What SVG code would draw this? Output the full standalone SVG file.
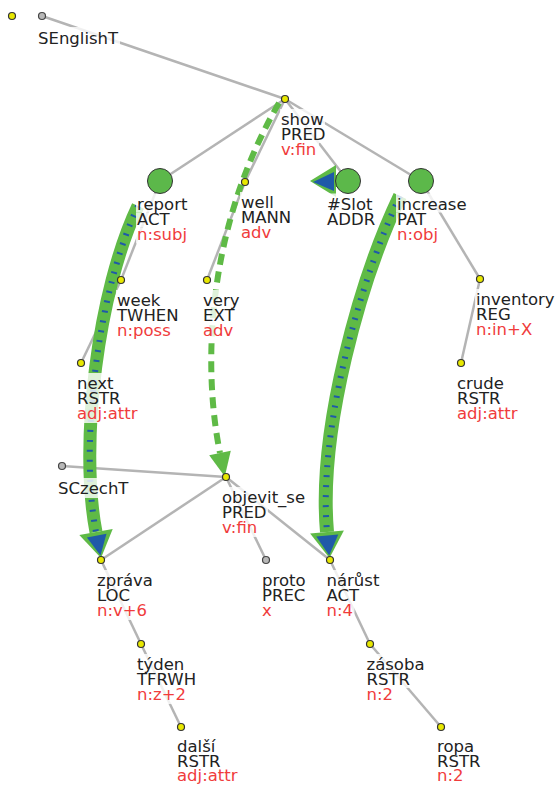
<svg xmlns="http://www.w3.org/2000/svg" width="558" height="785" viewBox="0 0 558 785">
<style>
.e{stroke:#b4b4b4;stroke-width:2.5;fill:none}
.dot{fill:#e8e800;stroke:#333;stroke-width:1.2}
.gr{fill:#b8b8b8;stroke:#444;stroke-width:1.2}
.big{fill:#5cb84a;stroke:#333;stroke-width:1}
.bg rect{fill:#fff;fill-opacity:0.8}
text{font-family:"DejaVu Sans",sans-serif;font-size:16.5px;fill:#222}
.f{fill:#f03c3c}
.g{stroke:#5fba46;fill:none}
.gd{stroke:#5fba46;fill:none;stroke-width:6;stroke-dasharray:11 7}
.b{stroke:#1f5aa8;stroke-width:6;stroke-dasharray:2 8;fill:none}
.ga{fill:#5fba46}
.ba{fill:#1f5aa8}
</style>
<rect width="558" height="785" fill="#fff"/>
<g id="connectors">
<line class="e" x1="42" y1="16" x2="285" y2="99"/>
<line class="e" x1="285" y1="99" x2="160" y2="181"/>
<line class="e" x1="285" y1="99" x2="245" y2="182"/>
<line class="e" x1="285" y1="99" x2="348" y2="181"/>
<line class="e" x1="285" y1="99" x2="421" y2="181"/>
<line class="e" x1="160" y1="181" x2="121" y2="280"/>
<line class="e" x1="121" y1="280" x2="81" y2="363"/>
<line class="e" x1="245" y1="182" x2="207" y2="280"/>
<line class="e" x1="421" y1="181" x2="480" y2="279"/>
<line class="e" x1="480" y1="279" x2="461" y2="363"/>
<line class="e" x1="62" y1="466" x2="226" y2="477"/>
<line class="e" x1="226" y1="477" x2="101" y2="560"/>
<line class="e" x1="226" y1="477" x2="266" y2="560"/>
<line class="e" x1="226" y1="477" x2="330" y2="560"/>
<line class="e" x1="101" y1="560" x2="141" y2="644"/>
<line class="e" x1="141" y1="644" x2="181" y2="727"/>
<line class="e" x1="330" y1="560" x2="370" y2="644"/>
<line class="e" x1="370" y1="644" x2="441" y2="727"/>
</g>
<g id="arrows">
<path class="g" stroke-width="13" d="M138,206 C98,290 79,444 96,532"/>
<path class="b" d="M138,206 C98,290 79,444 96,532"/>
<polygon class="ga" points="112.7,529 79.3,535 101,558"/>
<polygon class="ba" points="106.5,533.8 86.9,537.6 100.5,555.5"/>
<path class="g" stroke-width="14" d="M400,196 C360,280 318,430 327,532"/>
<path class="b" d="M400,196 C360,280 318,430 327,532"/>
<polygon class="ga" points="343.9,530.5 310.1,533.5 329.5,558"/>
<polygon class="ba" points="338.3,534.5 316.3,536.5 329.2,555.5"/>
<path class="gd" d="M279,103 C205,230 203,370 220,453"/>
<polygon class="ga" points="230.8,450.8 209.2,455.2 224.8,476.5"/>
<line class="g" stroke-width="12" x1="348" y1="181" x2="334" y2="181"/>
<polygon class="ga" points="336,165 336,197 310,181"/>
<polygon class="ba" points="334,172 334,191 313,182"/>
</g>
<g id="n0"><circle class="dot" cx="12" cy="16" r="3.5"/></g>
<g id="n_SEnglishT"><g class="bg"><rect x="37" y="27" width="83" height="21"/></g><circle class="gr" cx="42" cy="16" r="3.5"/><text x="38" y="44">SEnglishT</text></g>
<g id="n_show"><g class="bg"><rect x="280" y="109" width="45" height="19"/><rect x="280" y="128" width="47" height="15"/><rect x="280" y="143" width="39" height="16"/></g><circle class="dot" cx="285" cy="99" r="3.5"/><text x="281" y="125">show<tspan x="281" dy="15">PRED</tspan><tspan class="f" x="281" dy="15">v:fin</tspan></text></g>
<g id="n_report"><g class="bg"><rect x="136" y="193.5" width="53" height="19"/><rect x="136" y="212.5" width="35" height="15"/><rect x="136" y="227.5" width="53" height="16"/></g><circle class="big" cx="160" cy="181" r="12.5"/><text x="137" y="209.5">report<tspan x="137" dy="15">ACT</tspan><tspan class="f" x="137" dy="15">n:subj</tspan></text></g>
<g id="n_well"><g class="bg"><rect x="240" y="192" width="35" height="19"/><rect x="240" y="211" width="53" height="15"/><rect x="240" y="226" width="33" height="16"/></g><circle class="dot" cx="245" cy="182" r="3.5"/><text x="241" y="208">well<tspan x="241" dy="15">MANN</tspan><tspan class="f" x="241" dy="15">adv</tspan></text></g>
<g id="n_slot"><g class="bg"><rect x="326" y="193.5" width="48" height="19"/><rect x="326" y="212.5" width="51" height="16"/></g><circle class="big" cx="348" cy="181" r="12.5"/><text x="327" y="209.5">#Slot<tspan x="327" dy="15">ADDR</tspan></text></g>
<g id="n_increase"><g class="bg"><rect x="396" y="193.5" width="72" height="19"/><rect x="396" y="212.5" width="34" height="15"/><rect x="396" y="227.5" width="44" height="16"/></g><circle class="big" cx="421" cy="181" r="12.5"/><text x="397" y="209.5">increase<tspan x="397" dy="15">PAT</tspan><tspan class="f" x="397" dy="15">n:obj</tspan></text></g>
<g id="n_week"><g class="bg"><rect x="116" y="290" width="46" height="19"/><rect x="116" y="309" width="64" height="15"/><rect x="116" y="324" width="56" height="16"/></g><circle class="dot" cx="121" cy="280" r="3.5"/><text x="117" y="306">week<tspan x="117" dy="15">TWHEN</tspan><tspan class="f" x="117" dy="15">n:poss</tspan></text></g>
<g id="n_very"><g class="bg"><rect x="202" y="290" width="39" height="19"/><rect x="202" y="309" width="34" height="15"/><rect x="202" y="324" width="33" height="16"/></g><circle class="dot" cx="207" cy="280" r="3.5"/><text x="203" y="306">very<tspan x="203" dy="15">EXT</tspan><tspan class="f" x="203" dy="15">adv</tspan></text></g>
<g id="n_inventory"><g class="bg"><rect x="475" y="289" width="81" height="19"/><rect x="475" y="308" width="37" height="15"/><rect x="475" y="323" width="58" height="16"/></g><circle class="dot" cx="480" cy="279" r="3.5"/><text x="476" y="305">inventory<tspan x="476" dy="15">REG</tspan><tspan class="f" x="476" dy="15">n:in+X</tspan></text></g>
<g id="n_next"><g class="bg"><rect x="76" y="373" width="39" height="19"/><rect x="76" y="392" width="46" height="15"/><rect x="76" y="407" width="63" height="16"/></g><circle class="dot" cx="81" cy="363" r="3.5"/><text x="77" y="389">next<tspan x="77" dy="15">RSTR</tspan><tspan class="f" x="77" dy="15">adj:attr</tspan></text></g>
<g id="n_crude"><g class="bg"><rect x="456" y="373" width="49" height="19"/><rect x="456" y="392" width="46" height="15"/><rect x="456" y="407" width="63" height="16"/></g><circle class="dot" cx="461" cy="363" r="3.5"/><text x="457" y="389">crude<tspan x="457" dy="15">RSTR</tspan><tspan class="f" x="457" dy="15">adj:attr</tspan></text></g>
<g id="n_SCzechT"><g class="bg"><rect x="57" y="478" width="73" height="20"/></g><circle class="gr" cx="62" cy="466" r="3.5"/><text x="58" y="494">SCzechT</text></g>
<g id="n_objevit_se"><g class="bg"><rect x="221" y="487" width="86" height="19"/><rect x="221" y="506" width="47" height="15"/><rect x="221" y="521" width="39" height="16"/></g><circle class="dot" cx="226" cy="477" r="3.5"/><text x="222" y="503">objevit_se<tspan x="222" dy="15">PRED</tspan><tspan class="f" x="222" dy="15">v:fin</tspan></text></g>
<g id="n_zprava"><g class="bg"><rect x="96" y="570" width="58" height="19"/><rect x="96" y="589" width="36" height="15"/><rect x="96" y="604" width="52" height="16"/></g><circle class="dot" cx="101" cy="560" r="3.5"/><text x="97" y="586">zpráva<tspan x="97" dy="15">LOC</tspan><tspan class="f" x="97" dy="15">n:v+6</tspan></text></g>
<g id="n_proto"><g class="bg"><rect x="261" y="570" width="46" height="19"/><rect x="261" y="589" width="46" height="15"/><rect x="261" y="604" width="12" height="16"/></g><circle class="gr" cx="266" cy="560" r="3.5"/><text x="262" y="586">proto<tspan x="262" dy="15">PREC</tspan><tspan class="f" x="262" dy="15">x</tspan></text></g>
<g id="n_narust"><g class="bg"><rect x="325.5" y="570" width="55" height="19"/><rect x="325.5" y="589" width="35" height="15"/><rect x="325.5" y="604" width="29" height="16"/></g><circle class="dot" cx="330" cy="560" r="3.5"/><text x="326.5" y="586">nárůst<tspan x="326.5" dy="15">ACT</tspan><tspan class="f" x="326.5" dy="15">n:4</tspan></text></g>
<g id="n_tyden"><g class="bg"><rect x="136" y="654" width="50" height="19"/><rect x="136" y="673" width="62" height="15"/><rect x="136" y="688" width="51" height="16"/></g><circle class="dot" cx="141" cy="644" r="3.5"/><text x="137" y="670">týden<tspan x="137" dy="15">TFRWH</tspan><tspan class="f" x="137" dy="15">n:z+2</tspan></text></g>
<g id="n_zasoba"><g class="bg"><rect x="365.5" y="654" width="60" height="19"/><rect x="365.5" y="673" width="46" height="15"/><rect x="365.5" y="688" width="29" height="16"/></g><circle class="dot" cx="370" cy="644" r="3.5"/><text x="366.5" y="670">zásoba<tspan x="366.5" dy="15">RSTR</tspan><tspan class="f" x="366.5" dy="15">n:2</tspan></text></g>
<g id="n_dalsi"><g class="bg"><rect x="176" y="736" width="41" height="19"/><rect x="176" y="755" width="46" height="15"/><rect x="176" y="770" width="63" height="15"/></g><circle class="dot" cx="181" cy="727" r="3.5"/><text x="177" y="752">další<tspan x="177" dy="15">RSTR</tspan><tspan class="f" x="177" dy="14">adj:attr</tspan></text></g>
<g id="n_ropa"><g class="bg"><rect x="436" y="736" width="40" height="19"/><rect x="436" y="755" width="46" height="15"/><rect x="436" y="770" width="29" height="15"/></g><circle class="dot" cx="441" cy="727" r="3.5"/><text x="437" y="752">ropa<tspan x="437" dy="15">RSTR</tspan><tspan class="f" x="437" dy="14">n:2</tspan></text></g>
</svg>
